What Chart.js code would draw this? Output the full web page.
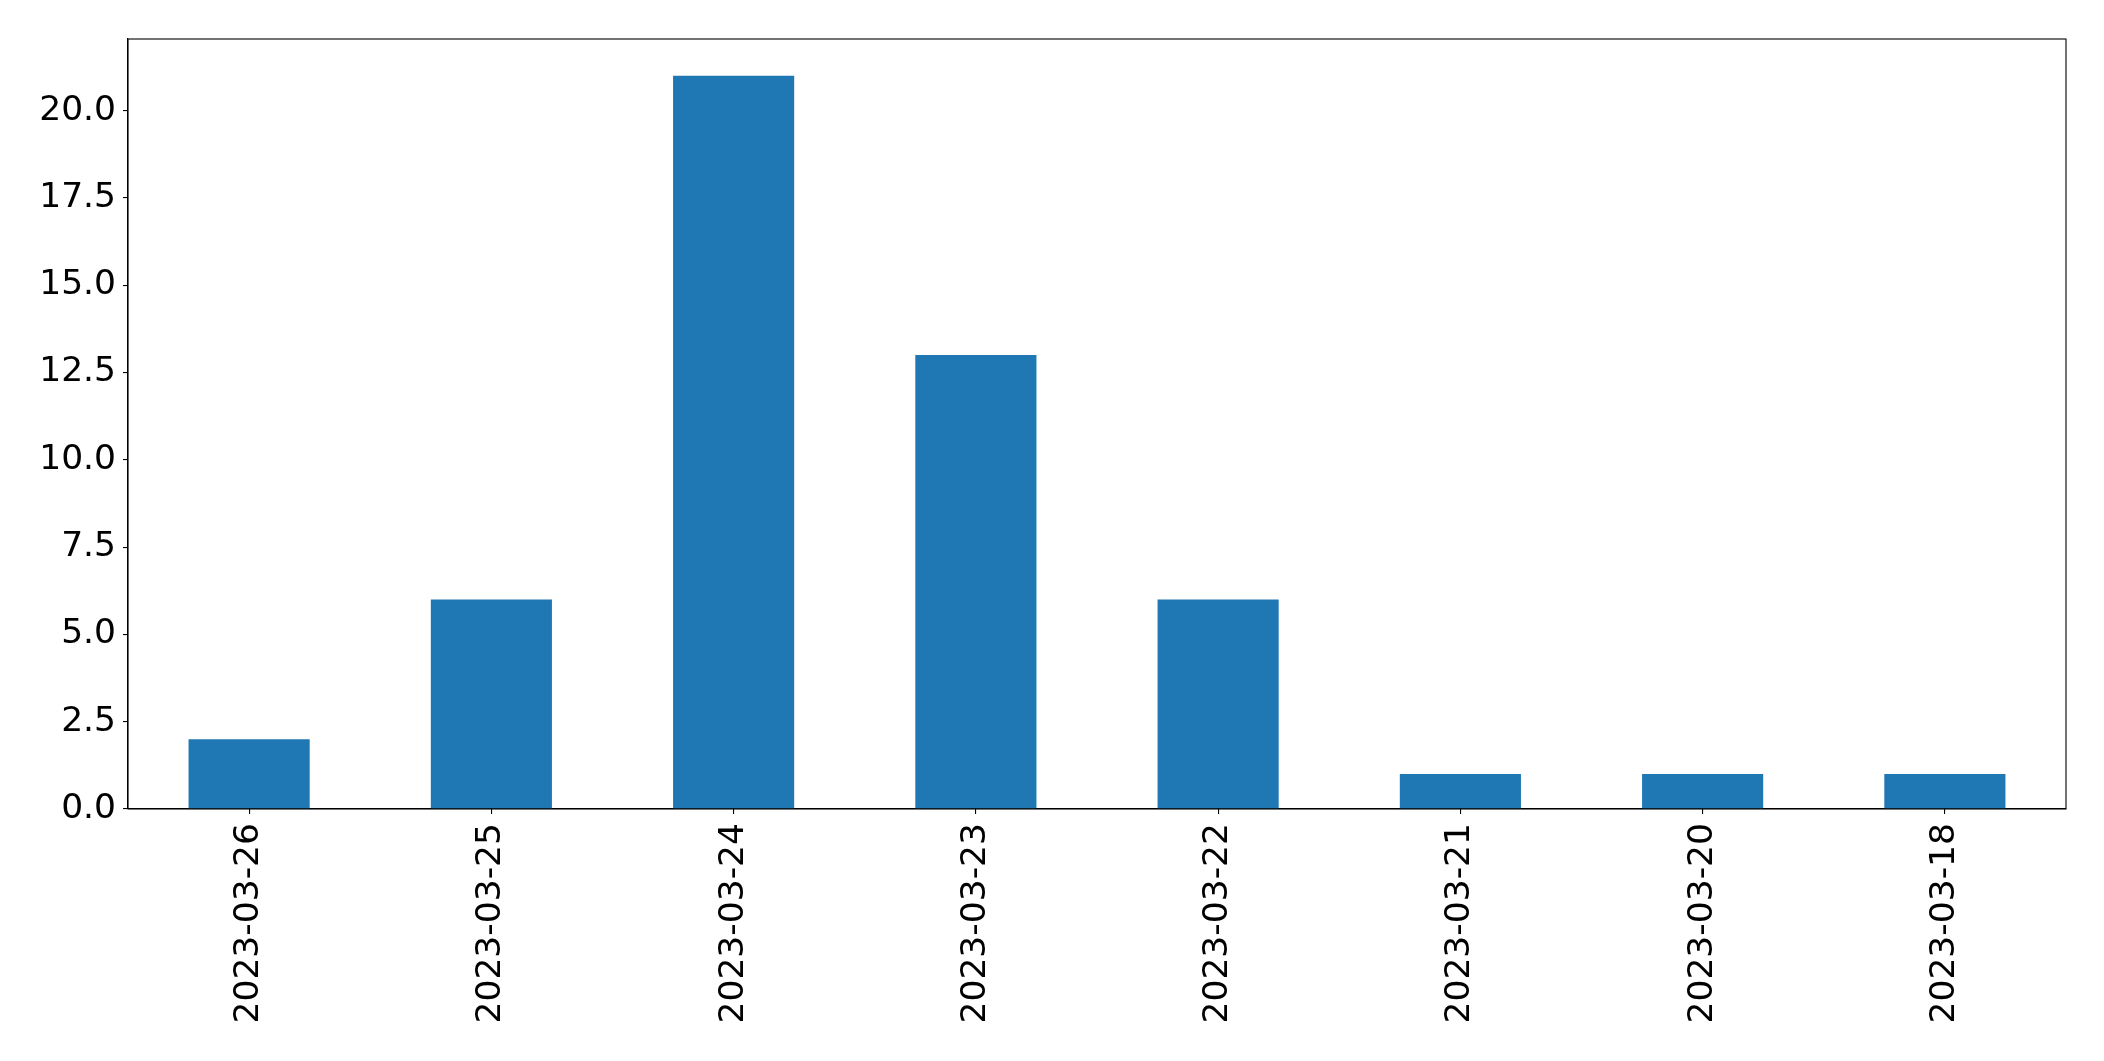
<!DOCTYPE html>
<html>
<head>
<meta charset="utf-8">
<script src="https://cdn.jsdelivr.net/npm/chart.js@4/dist/chart.umd.min.js"></script>
<style>
html,body{margin:0;padding:0;background:#fff;}
#wrap{width:2104px;height:1061px;position:relative;}
</style>
</head>
<body>
<div id="wrap"><canvas id="c" width="2104" height="1061"></canvas></div>
<script>
const categories = ["2023-03-26","2023-03-25","2023-03-24","2023-03-23","2023-03-22","2023-03-21","2023-03-20","2023-03-18"];
const counts = [2, 6, 21, 13, 6, 1, 1, 1];
const yTicks = [0, 2.5, 5, 7.5, 10, 12.5, 15, 17.5, 20];
const yMax = 22.05;

const frame = {
  id: 'frame',
  afterDraw(chart) {
    const {ctx, chartArea: a} = chart;
    ctx.save();
    ctx.strokeStyle = '#000';
    ctx.lineWidth = 1.1;
    ctx.strokeRect(a.left, a.top, a.right - a.left, a.bottom - a.top);
    ctx.restore();
  }
};

Chart.defaults.font.family = "'DejaVu Sans', sans-serif";
Chart.defaults.color = '#000';

new Chart(document.getElementById('c'), {
  type: 'bar',
  data: {
    labels: categories,
    datasets: [{
      data: counts,
      backgroundColor: '#1f77b4',
      borderWidth: 0,
      categoryPercentage: 1.0,
      barPercentage: 0.5
    }]
  },
  options: {
    responsive: false,
    animation: false,
    layout: {padding: {top: 39, right: 38, left: 0, bottom: 0}},
    plugins: {legend: {display: false}, tooltip: {enabled: false}},
    scales: {
      x: {
        grid: {offset: false, drawOnChartArea: false, drawTicks: true, tickLength: 5, color: '#000', lineWidth: 1.1},
        border: {display: true, color: '#000', width: 1.1},
        ticks: {font: {size: 34.5}, minRotation: 90, maxRotation: 90, padding: 9, autoSkip: false},
        afterFit(s) { s.height = 252; }
      },
      y: {
        min: 0, max: yMax,
        grid: {drawOnChartArea: false, drawTicks: true, tickLength: 5, color: '#000', lineWidth: 1.1},
        border: {display: true, color: '#000', width: 1.1},
        ticks: {font: {size: 34.5}, padding: 7, callback: v => Number(v).toFixed(1)},
        afterBuildTicks(s) { s.ticks = yTicks.map(v => ({value: v})); },
        afterFit(s) { s.width = 128; }
      }
    }
  },
  plugins: [frame]
});
</script>
</body>
</html>
